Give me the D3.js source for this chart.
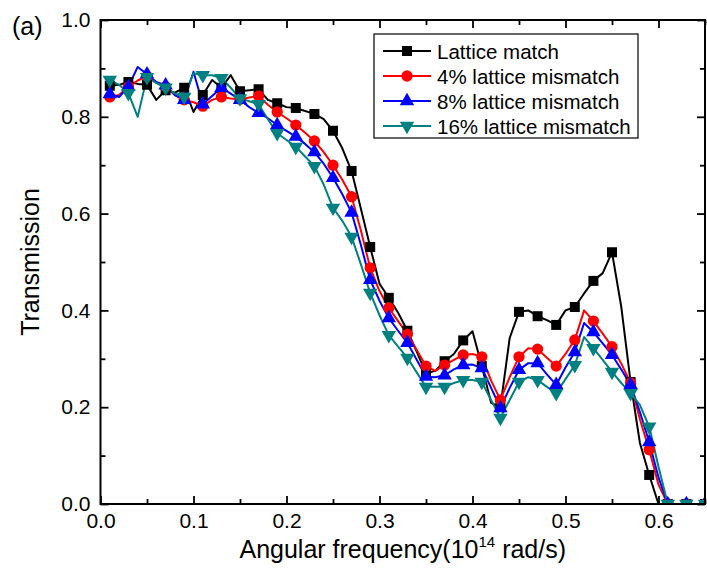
<!DOCTYPE html>
<html>
<head>
<meta charset="utf-8">
<script src="https://cdn.jsdelivr.net/npm/d3@7"></script>
<style>
  body { margin: 0; background: #fff; }
  svg { font-family: "Liberation Sans", Arial, sans-serif; }
</style>
</head>
<body>
<div id="chart"></div>
<script>
// frequency in 10^14 rad/s
const freq = [0.01, 0.02, 0.03, 0.04, 0.05, 0.06, 0.07, 0.08, 0.09, 0.10,
  0.11, 0.12, 0.13, 0.14, 0.15, 0.16, 0.17, 0.18, 0.19, 0.20,
  0.21, 0.22, 0.23, 0.24, 0.25, 0.26, 0.27, 0.28, 0.29, 0.30,
  0.31, 0.32, 0.33, 0.34, 0.35, 0.36, 0.37, 0.38, 0.39, 0.40,
  0.41, 0.42, 0.43, 0.44, 0.45, 0.46, 0.47, 0.48, 0.49, 0.50,
  0.51, 0.52, 0.53, 0.54, 0.55, 0.56, 0.57, 0.58, 0.59, 0.60,
  0.61, 0.62, 0.63, 0.64, 0.65];

const latticeMatch = [0.864, 0.866, 0.872, 0.868, 0.866, 0.835, 0.855, 0.850, 0.860, 0.810,
  0.845, 0.876, 0.860, 0.886, 0.853, 0.855, 0.857, 0.835, 0.828, 0.820,
  0.818, 0.812, 0.806, 0.795, 0.771, 0.735, 0.688, 0.610, 0.531, 0.455,
  0.426, 0.395, 0.358, 0.315, 0.270, 0.275, 0.295, 0.310, 0.338, 0.357,
  0.285, 0.209, 0.200, 0.343, 0.397, 0.400, 0.388, 0.380, 0.370, 0.400,
  0.407, 0.435, 0.461, 0.477, 0.520, 0.407, 0.252, 0.126, 0.060, 0.000,
  0.000, 0.000, 0.000, 0.000, 0.000];

const mismatch4 = [0.841, 0.845, 0.862, 0.875, 0.884, 0.870, 0.862, 0.845, 0.835, 0.830,
  0.822, 0.835, 0.841, 0.838, 0.836, 0.840, 0.843, 0.825, 0.810, 0.797,
  0.783, 0.767, 0.750, 0.727, 0.700, 0.670, 0.635, 0.565, 0.488, 0.440,
  0.405, 0.378, 0.351, 0.318, 0.285, 0.275, 0.287, 0.298, 0.308, 0.310,
  0.304, 0.255, 0.215, 0.262, 0.304, 0.322, 0.320, 0.302, 0.285, 0.310,
  0.339, 0.400, 0.378, 0.352, 0.325, 0.290, 0.250, 0.175, 0.112, 0.040,
  0.000, 0.000, 0.000, 0.000, 0.000];

const mismatch8 = [0.847, 0.841, 0.862, 0.903, 0.888, 0.872, 0.865, 0.845, 0.835, 0.893,
  0.826, 0.843, 0.860, 0.848, 0.835, 0.820, 0.808, 0.797, 0.783, 0.771,
  0.759, 0.744, 0.727, 0.703, 0.674, 0.640, 0.602, 0.535, 0.463, 0.420,
  0.384, 0.358, 0.333, 0.298, 0.263, 0.262, 0.266, 0.278, 0.287, 0.288,
  0.281, 0.240, 0.198, 0.240, 0.277, 0.291, 0.291, 0.268, 0.246, 0.282,
  0.314, 0.374, 0.355, 0.332, 0.308, 0.278, 0.246, 0.190, 0.128, 0.055,
  0.000, 0.000, 0.000, 0.000, 0.000];

const mismatch16 = [0.876, 0.866, 0.849, 0.800, 0.882, 0.870, 0.860, 0.848, 0.841, 0.890,
  0.886, 0.886, 0.880, 0.860, 0.838, 0.832, 0.826, 0.795, 0.766, 0.752,
  0.738, 0.718, 0.698, 0.660, 0.612, 0.585, 0.552, 0.495, 0.436, 0.390,
  0.349, 0.325, 0.302, 0.272, 0.242, 0.242, 0.242, 0.250, 0.256, 0.256,
  0.252, 0.215, 0.178, 0.215, 0.252, 0.262, 0.256, 0.242, 0.229, 0.258,
  0.287, 0.345, 0.322, 0.298, 0.273, 0.250, 0.229, 0.205, 0.160, 0.077,
  0.000, 0.000, 0.000, 0.000, 0.000];

const seriesNames = ["Lattice match", "4% lattice mismatch", "8% lattice mismatch", "16% lattice mismatch"];
const seriesColors = ["#000000", "#ff0000", "#0000ff", "#008080"];
const seriesValues = [latticeMatch, mismatch4, mismatch8, mismatch16];

const xMajor = [0.0, 0.1, 0.2, 0.3, 0.4, 0.5, 0.6];
const xMinor = [0.05, 0.15, 0.25, 0.35, 0.45, 0.55, 0.65];
const yMajor = [0.0, 0.2, 0.4, 0.6, 0.8, 1.0];
const yMinor = [0.1, 0.3, 0.5, 0.7, 0.9];

const margin = { top: 20, right: 2, bottom: 69, left: 100.5 },
      width = 707 - margin.left - margin.right,
      height = 573 - margin.top - margin.bottom;

const svgRoot = d3.select("#chart")
    .append("svg")
    .attr("width", 707)
    .attr("height", 573);

const svg = svgRoot.append("g")
    .attr("transform", `translate(${margin.left},${margin.top})`);

const x = d3.scaleLinear().domain([0, 0.65]).range([0, width]);
const y = d3.scaleLinear().domain([0, 1.0]).range([height, 0]);

svg.append("clipPath")
    .attr("id", "clip")
    .append("rect")
    .attr("width", width)
    .attr("height", height);

// symbol shapes per series
const symbols = [
  d3.symbol().type(d3.symbolSquare).size(100)(),
  d3.symbol().type(d3.symbolCircle).size(100)(),
  d3.symbol().type(d3.symbolTriangle).size(90)(),
  d3.symbol().type(d3.symbolTriangle).size(90)()
];
const symbolRotate = [0, 0, 0, 180];

const line = d3.line()
    .x(d => x(d[0]))
    .y(d => y(d[1]));

const plot = svg.append("g").attr("clip-path", "url(#clip)");

seriesValues.forEach((vals, k) => {
  const pts = freq.map((f, i) => [f, vals[i]]);
  plot.append("path")
      .datum(pts)
      .attr("fill", "none")
      .attr("stroke", seriesColors[k])
      .attr("stroke-width", 2)
      .attr("stroke-linejoin", "round")
      .attr("d", line);
});

seriesValues.forEach((vals, k) => {
  const pts = freq.map((f, i) => [f, vals[i]]).filter((d, i) => i % 2 === 0);
  plot.append("g")
      .selectAll("path")
      .data(pts)
      .enter().append("path")
      .attr("d", symbols[k])
      .attr("transform", d => `translate(${x(d[0])},${y(d[1])}) rotate(${symbolRotate[k]})`)
      .attr("fill", seriesColors[k]);
});

// axes with inward ticks
function styleAxis(g) {
  g.select(".domain").remove();
  g.selectAll(".tick line").attr("stroke", "#000").attr("stroke-width", 1.8);
  g.selectAll("text").attr("font-size", 21).attr("fill", "#000")
    .attr("font-family", "'Liberation Sans', Arial, sans-serif");
}

svg.append("g")
    .attr("transform", `translate(0,${height})`)
    .call(d3.axisBottom(x).tickValues(xMajor).tickFormat(d3.format(".1f")).tickSizeInner(-8).tickPadding(9))
    .call(styleAxis);
svg.append("g")
    .attr("transform", `translate(0,${height})`)
    .call(d3.axisBottom(x).tickValues(xMinor).tickFormat("").tickSizeInner(-5))
    .call(styleAxis);
svg.append("g")
    .call(d3.axisTop(x).tickValues(xMajor).tickFormat("").tickSizeInner(-8))
    .call(styleAxis);
svg.append("g")
    .call(d3.axisTop(x).tickValues(xMinor).tickFormat("").tickSizeInner(-5))
    .call(styleAxis);

svg.append("g")
    .call(d3.axisLeft(y).tickValues(yMajor).tickFormat(d3.format(".1f")).tickSizeInner(-8).tickPadding(10))
    .call(styleAxis);
svg.append("g")
    .call(d3.axisLeft(y).tickValues(yMinor).tickFormat("").tickSizeInner(-5))
    .call(styleAxis);
svg.append("g")
    .attr("transform", `translate(${width},0)`)
    .call(d3.axisRight(y).tickValues(yMajor).tickFormat("").tickSizeInner(-8))
    .call(styleAxis);
svg.append("g")
    .attr("transform", `translate(${width},0)`)
    .call(d3.axisRight(y).tickValues(yMinor).tickFormat("").tickSizeInner(-5))
    .call(styleAxis);

// frame
svg.append("rect")
    .attr("width", width)
    .attr("height", height)
    .attr("fill", "none")
    .attr("stroke", "#000")
    .attr("stroke-width", 2);

// axis titles
const xTitle = svgRoot.append("text")
    .attr("x", margin.left + width / 2)
    .attr("y", 558)
    .attr("text-anchor", "middle")
    .attr("font-size", 25);
xTitle.append("tspan").text("Angular frequency(10");
xTitle.append("tspan").attr("font-size", 15).attr("dy", -11).text("14");
xTitle.append("tspan").attr("dy", 11).text(" rad/s)");

svgRoot.append("text")
    .attr("transform", `translate(39,${margin.top + height / 2}) rotate(-90)`)
    .attr("text-anchor", "middle")
    .attr("font-size", 25)
    .text("Transmission");

svgRoot.append("text")
    .attr("x", 12)
    .attr("y", 35)
    .attr("font-size", 25)
    .text("(a)");

// legend
const legend = svgRoot.append("g").attr("transform", "translate(374,34)");
legend.append("rect")
    .attr("width", 264)
    .attr("height", 104)
    .attr("fill", "#fff")
    .attr("stroke", "#000")
    .attr("stroke-width", 1.2);

seriesNames.forEach((name, k) => {
  const row = legend.append("g").attr("transform", `translate(0,${17 + k * 25})`);
  row.append("line")
      .attr("x1", 9).attr("x2", 57)
      .attr("stroke", seriesColors[k])
      .attr("stroke-width", 2);
  row.append("path")
      .attr("d", symbols[k])
      .attr("transform", `translate(33,0) rotate(${symbolRotate[k]})`)
      .attr("fill", seriesColors[k]);
  row.append("text")
      .attr("x", 63)
      .attr("y", 7.5)
      .attr("font-size", 20.5)
      .text(name);
});
</script>
</body>
</html>
